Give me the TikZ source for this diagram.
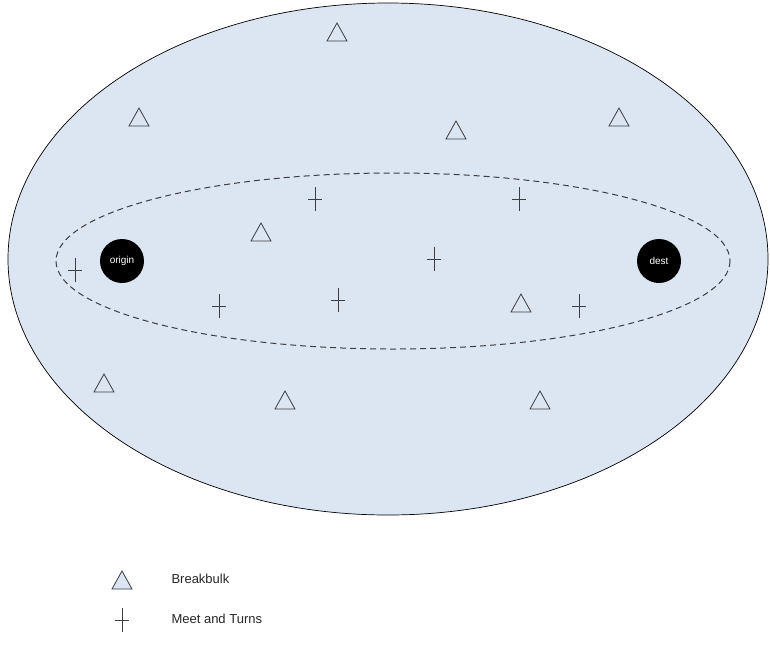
\documentclass[tikz,border=0pt]{standalone}
\usepackage{fontspec}
\setmainfont{Liberation Sans}
\definecolor{bgblue}{RGB}{220,230,242}
\definecolor{linegray}{RGB}{60,60,66}
\begin{document}
\begin{tikzpicture}[x=1pt,y=-1pt,
  tri/.style={draw=linegray, fill=bgblue, line width=0.8pt, line join=miter},
  crossmark/.style={draw=linegray, line width=0.8pt},
  endpoint/.style={circle, fill=black, minimum size=44pt, inner sep=0pt, text=white, font=\fontsize{10}{12}\selectfont},
  legendtext/.style={anchor=west, font=\fontsize{13}{15}\selectfont, text=black!85}]
\useasboundingbox (0,0) rectangle (770,648);
\fill[white] (0,0) rectangle (770,648);
% outer region
\draw[fill=bgblue, draw=black, line width=0.7pt] (388,259) ellipse [x radius=380, y radius=256];
% corridor
\draw[dashed, draw=linegray, line width=1pt, dash pattern=on 6pt off 4pt] (393,261) ellipse [x radius=337, y radius=88];
% endpoints
\node[endpoint] (origin) at (122,261) {origin};
\node[endpoint] (dest) at (659,261) {dest};
% triangles
\foreach \x/\y in {337/32, 139/117, 456/130, 619/117, 261/232, 521/303, 104/383, 285/400, 540/400, 122/580}{
  \draw[tri] (\x-10,\y+9) -- (\x,\y-9) -- (\x+10,\y+9) -- cycle;
}
% crosses
\foreach \x/\y in {315/199, 519/199, 434/259, 75/270, 219/306, 338/300, 579/306, 122/620}{
  \draw[crossmark] (\x,\y-12) -- (\x,\y+12) (\x-7,\y) -- (\x+7,\y);
}
% legend
\node[legendtext] (lb) at (168,579) {Breakbulk};
\node[legendtext] (lm) at (168,619) {Meet and Turns};
\end{tikzpicture}
\end{document}
